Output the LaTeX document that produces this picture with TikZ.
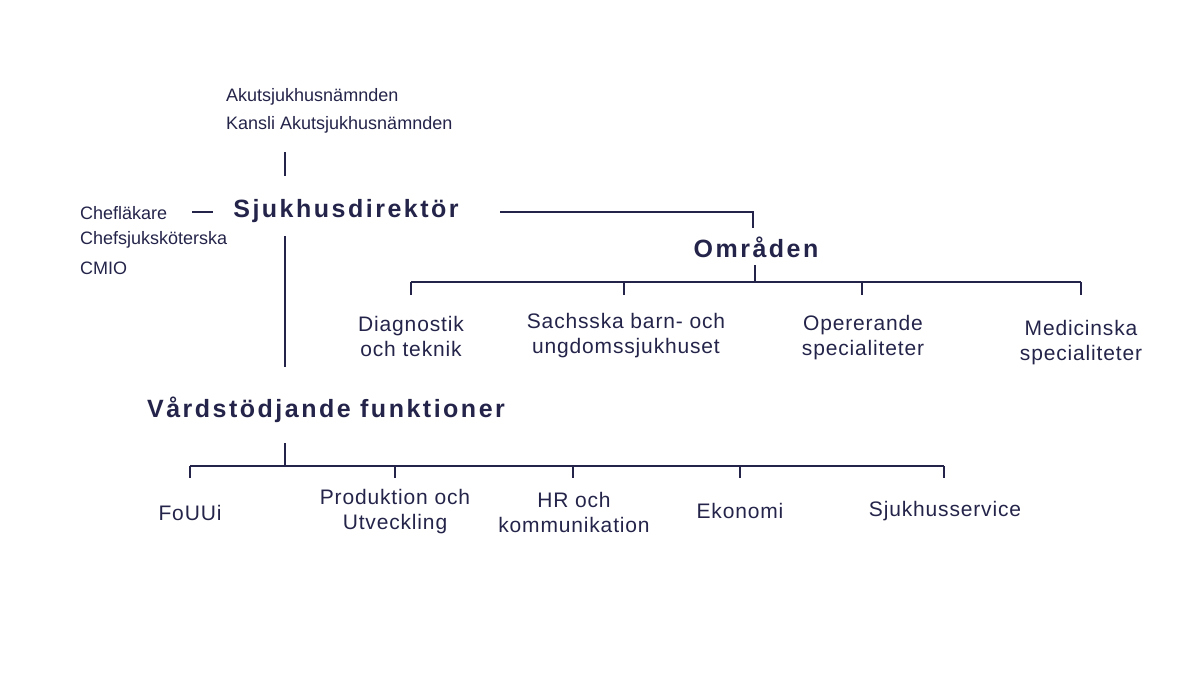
\documentclass[tikz,border=0pt]{standalone}
\usepackage{fontspec}
\setmainfont{Liberation Sans}
\usetikzlibrary{positioning}
\definecolor{navy}{HTML}{24244A}
\tikzstyle{small} = [text=navy, font=\fontsize{18}{22}\selectfont, inner sep=0, align=center]
\tikzstyle{head} = [text=navy, font=\fontsize{25}{30}\selectfont\bfseries\addfontfeatures{LetterSpace=10}, inner sep=0]
\tikzstyle{sub} = [text=navy, font=\fontsize{21}{25}\selectfont\addfontfeatures{LetterSpace=4}, inner sep=0, align=center]
\tikzstyle{link} = [draw=navy, line width=1.8pt]

\begin{document}
\begin{tikzpicture}[x=1pt, y=-1pt]
    \useasboundingbox (0,0) rectangle (1200,675);

    \node[small, anchor=west] (Nmd) at (226,97) {Akutsjukhusnämnden};
    \node[small, anchor=west] (Kansli) at (226,125) {Kansli Akutsjukhusnämnden};
    \node[small, anchor=west] (Chef1) at (80,213) {Chefläkare};
    \node[small, anchor=west] (Chef2) at (80,240) {Chefsjuksköterska};
    \node[small, anchor=west] (Cmio) at (80,268) {CMIO};

    \node[head] (Dir) at (346,211) {Sjukhusdirektör};
    \node[head] (Omr) at (756,247) {Områden};
    \node[head] (Vard) at (326,410) {Vårdstödjande funktioner};

    % områden
    \node[sub] (O1) at (411,336) {Diagnostik\\och teknik};
    \node[sub] (O2) at (626,336) {Sachsska barn- och\\ungdomssjukhuset};
    \node[sub] (O3) at (863,338) {Opererande\\specialiteter};
    \node[sub] (O4) at (1081,343) {Medicinska\\specialiteter};

    % funktioner
    \node[sub] (F1) at (190,513) {FoUUi};
    \node[sub] (F2) at (395,512) {Produktion och\\Utveckling};
    \node[sub] (F3) at (574,512) {HR och\\kommunikation};
    \node[sub] (F4) at (740,511) {Ekonomi};
    \node[sub] (F5) at (945,511) {Sjukhusservice};

    \draw[link] (285,152) -- (285,176);
    \draw[link] (192,212) -- (213,212);
    \draw[link] (500,212) -- (753,212) -- (753,228);
    \draw[link] (285,236) -- (285,367);

    \draw[link] (755,265) -- (755,282);
    \draw[link] (411,282) -- (1081,282);
    \foreach \x in {411,624,862,1081}{
    \draw[link] (\x,282) -- (\x,295);
    }

    \draw[link] (285,443) -- (285,466);
    \draw[link] (190,466) -- (944,466);
    \foreach \x in {190,395,573,740,944}{
    \draw[link] (\x,466) -- (\x,478);
    }
\end{tikzpicture}
\end{document}
